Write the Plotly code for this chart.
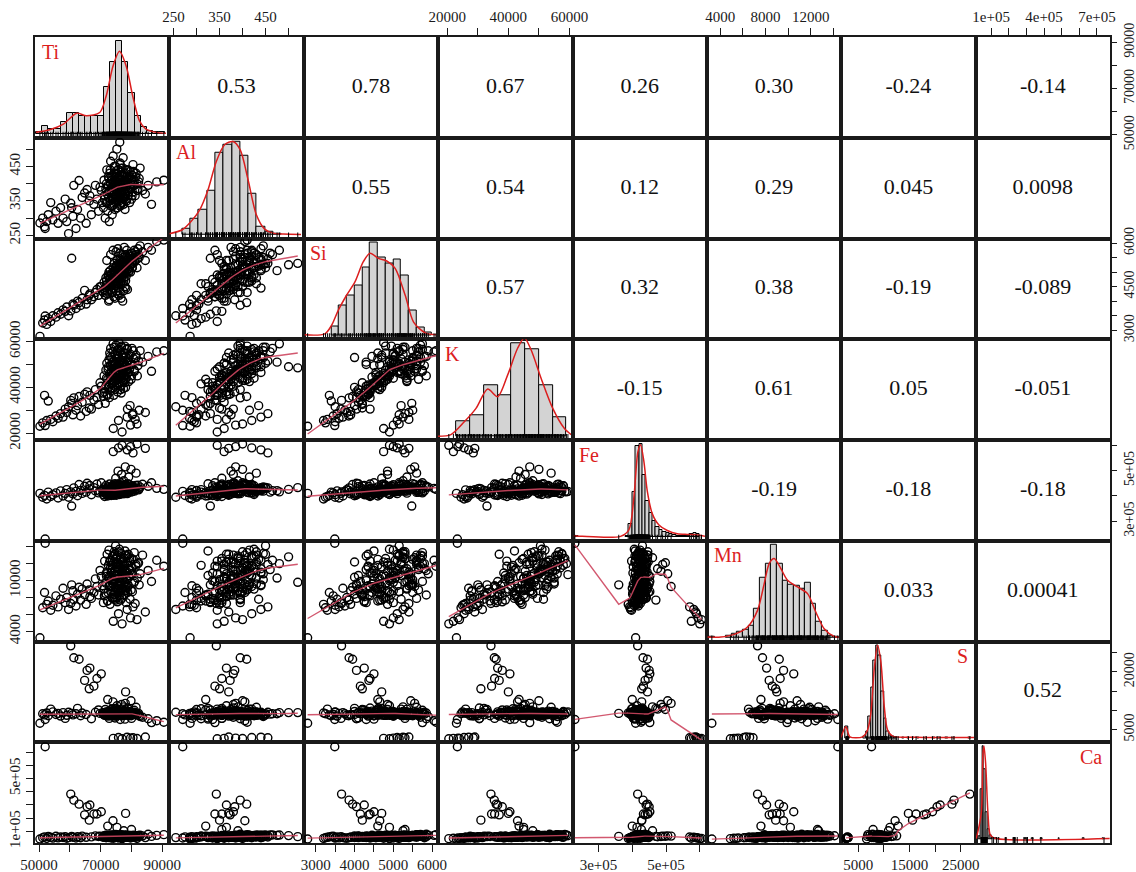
import numpy as np
import plotly.graph_objects as go
from plotly.subplots import make_subplots

# ---------------- sample values (one entry per sample, same order in every list) ----------------
ti = [52000, 50300, 51200, 51800, 52500, 53000, 53800, 54500, 55500, 56200,
      57000, 57800, 58500, 59000, 59600, 60300, 60600, 61000, 61300, 62000,
      62500, 63000, 63500, 64000, 64800, 65300, 65600, 66300, 66500, 67000,
      67800, 68300, 68800, 69300, 70200, 70600,
      69800, 70900, 71100, 71300, 71500, 71700, 71800, 72000, 72100, 72300,
      72400, 72600, 72700, 72800, 72900, 72950, 73050, 73200, 73250, 73400,
      73550, 73600, 73750, 73900, 73950, 74000, 74050, 74100, 74250, 74350,
      74400, 74500, 74650, 74700, 74800, 74850, 74900, 74980, 75050, 75100,
      75150, 75250, 75300, 75400, 75450, 75550, 75600, 75650, 75750, 75800,
      75900, 75950, 76050, 76100, 76200, 76250, 76350, 76400, 76500, 76550,
      76650, 76700, 76800, 76850, 76950, 77050, 77150, 77200, 77300, 77400,
      77500, 77550, 77650, 77750, 77850, 77900, 78000, 78100, 78200, 78300,
      78400, 78500, 78600, 78700, 78800, 78950, 79100, 79250, 79400, 79550,
      79700, 79850, 80000, 80150, 80300, 80500, 80700, 80900, 81200, 81500,
      81800, 82100, 82500, 82800, 83600, 84500, 85400, 86500, 88200, 90500,
      71200, 71900, 72200, 72500, 72800, 73100, 73300, 73500, 73700, 73800,
      74000, 74200, 74300, 74450, 74600, 74750, 74950, 75100, 75200, 75350,
      75500, 75700, 75850, 76000, 76150, 76300, 76450, 76600, 76750, 76900,
      77100, 77250, 77450, 77600, 77800, 78050, 78250, 78450, 78650, 78900,
      79150, 79350, 79600, 79900, 80200, 80600, 81000, 81400, 81900, 82300]
al = [270, 286, 300, 275, 290, 310, 345, 295, 320, 285,
      330, 300, 355, 290, 255, 343, 330, 305, 395, 270,
      325, 409, 300, 360, 373, 285, 383, 350, 365, 310,
      340, 395, 355, 320, 380, 345,
      390, 330, 410, 355, 300, 385, 345, 440, 370, 320,
      395, 360, 415, 290, 380, 430, 350, 400, 465, 335,
      375, 420, 310, 390, 355, 405, 480, 360, 340, 395,
      430, 370, 325, 410, 385, 450, 355, 395, 420, 345,
      380, 500, 365, 405, 330, 390, 440, 375, 415, 420,
      360, 395, 350, 425, 520, 460, 335, 400, 370, 410,
      355, 445, 380, 395, 345, 420, 365, 400, 475, 340,
      390, 430, 375, 360, 410, 325, 385, 370, 440, 395,
      350, 420, 440, 380, 405, 365, 415, 390, 345, 435,
      385, 400, 355, 425, 375, 455, 395, 410, 365, 430,
      400, 385, 415, 445, 380, 370, 395, 340, 405, 410,
      365, 400, 345, 420, 375, 440, 355, 390, 410, 335,
      425, 370, 395, 450, 360, 405, 385, 430, 350, 415,
      380, 440, 365, 400, 375, 455, 340, 410, 390, 425,
      360, 445, 380, 405, 370, 430, 355, 415, 395, 440,
      375, 420, 385, 410, 365, 435, 395, 420, 380, 405]
si = [3490, 2790, 3250, 3350, 3200, 3400, 3300, 3500, 3450, 3600,
      3550, 3700, 3650, 3800, 3500, 3665, 5475, 3900, 3860, 3750,
      4000, 3950, 3850, 4100, 4370, 3900, 4050, 4200, 4250, 4050,
      4150, 4300, 4400, 4200, 4500, 4350,
      4500, 4300, 4650, 4400, 4200, 4800, 4550, 5400, 4350, 4600,
      4900, 4000, 5000, 4050, 4750, 4600, 4850, 4500, 5600, 4400,
      4950, 4700, 4600, 4300, 4800, 4650, 5750, 4750, 4150, 4900,
      5300, 4650, 4100, 5000, 4550, 5150, 4700, 5700, 4800, 4350,
      4600, 5250, 4900, 5150, 4250, 5000, 5800, 4850, 4650, 5100,
      5200, 4750, 4200, 4900, 5300, 5650, 4300, 5150, 4600, 5400,
      4100, 5250, 4850, 5600, 4900, 5200, 4000, 5350, 5050, 4350,
      5250, 4800, 5850, 5100, 4950, 4500, 5550, 4700, 4450, 5000,
      5400, 5750, 5250, 4400, 5500, 5100, 5350, 5050, 5600, 5200,
      5000, 5450, 5300, 5650, 5150, 5300, 5500, 5750, 5400, 5600,
      5150, 5800, 5500, 5900, 5700, 5400, 5850, 5750, 6050, 6100,
      4400, 4700, 4250, 4850, 4500, 5050, 4600, 4900, 4300, 4750,
      5150, 4450, 4950, 5300, 4650, 5000, 4550, 5200, 4800, 5400,
      4700, 5100, 4450, 5250, 4900, 5450, 4650, 5050, 4800, 5350,
      4950, 5500, 4700, 5200, 5000, 5600, 4850, 5300, 5100, 5450,
      5000, 5550, 5250, 5650, 5150, 5500, 5350, 5700, 5450, 5600]
kk = [23300, 23000, 24500, 36500, 25500, 34000, 26000, 25000, 27500, 26500,
      28500, 27000, 30500, 29000, 31500, 34300, 33000, 28000, 35400, 30000,
      32000, 36000, 27500, 33500, 37000, 29500, 38000, 31000, 36500, 30500,
      34500, 39000, 35500, 32500, 40500, 37500,
      42000, 36000, 45000, 39500, 33000, 47500, 41000, 50500, 37000, 43500,
      48000, 40000, 52000, 35500, 46000, 55000, 44500, 49500, 57000, 38500,
      47000, 53000, 41500, 50000, 45500, 43000, 59000, 22000, 36500, 51500,
      48500, 42500, 39000, 54500, 46500, 50500, 44000, 58500, 47500, 41000,
      52500, 49000, 45000, 56000, 38000, 47500, 53500, 43500, 50000, 25500,
      46000, 59500, 42000, 51000, 48500, 55500, 40500, 47000, 44500, 52000,
      37500, 57500, 45500, 49500, 20500, 46000, 53000, 43000, 51000, 39500,
      48000, 55000, 45000, 50500, 58000, 42000, 47000, 40000, 53500, 44000,
      49000, 56500, 27000, 30500, 51500, 46500, 42500, 54000, 48000, 32000,
      23500, 50000, 45000, 57000, 28000, 28500, 52500, 47500, 26000, 54000,
      24000, 49500, 30000, 56000, 51000, 29000, 53500, 47000, 55500, 56000,
      38000, 44000, 36500, 49000, 41000, 53500, 39500, 46500, 51000, 42000,
      55500, 44500, 48000, 57500, 40500, 50000, 45500, 52500, 43000, 47500,
      54000, 49000, 41500, 56500, 46000, 51500, 39000, 48500, 58000, 44000,
      50500, 53000, 42500, 47000, 55000, 49500, 45000, 51000, 57000, 46500,
      52000, 48000, 54500, 43500, 50000, 56000, 47000, 53000, 45000, 51500]
fe = [230000, 410000, 395000, 402000, 388000, 415000, 398000, 405000, 412000, 392000,
      420000, 400000, 410000, 425000, 395000, 416000, 360000, 408000, 432000, 418000,
      401000, 445000, 422000, 410000, 438000, 415000, 450000, 428000, 441000, 405000,
      433000, 420000, 447000, 412000, 452000, 425000,
      418000, 405000, 432000, 398000, 420000, 441000, 409000, 427000, 415000, 400000,
      436000, 412000, 423000, 404000, 447000, 418000, 410000, 430000, 421000, 402000,
      438000, 414000, 425000, 408000, 442000, 428000, 416000, 575000, 411000, 433000,
      419000, 405000, 448000, 424000, 412000, 430000, 470000, 417000, 422000, 403000,
      436000, 426000, 414000, 445000, 409000, 431000, 420000, 498000, 412000, 590000,
      427000, 418000, 440000, 406000, 433000, 415000, 423000, 452000, 410000, 428000,
      437000, 419000, 485000, 414000, 600000, 430000, 408000, 443000, 421000, 413000,
      460000, 426000, 435000, 417000, 440000, 409000, 515000, 445000, 428000, 419000,
      438000, 412000, 582000, 430000, 448000, 425000, 475000, 416000, 433000, 422000,
      595000, 505000, 427000, 440000, 418000, 570000, 436000, 430000, 424000, 490000,
      605000, 442000, 428000, 435000, 446000, 588000, 438000, 452000, 430000, 426000,
      412000, 427000, 405000, 436000, 418000, 423000, 409000, 431000, 415000, 440000,
      420000, 403000, 428000, 434000, 416000, 444000, 410000, 425000, 419000, 437000,
      413000, 429000, 421000, 446000, 407000, 432000, 417000, 424000, 439000, 411000,
      427000, 435000, 418000, 442000, 414000, 430000, 422000, 437000, 409000, 433000,
      420000, 445000, 426000, 415000, 438000, 428000, 419000, 441000, 430000, 424000]
mn = [14400, 3260, 6800, 8600, 7200, 7600, 6500, 7100, 8200, 6900,
      7800, 9100, 7400, 8000, 6600, 7300, 9500, 8800, 7740, 7000,
      8400, 9220, 7700, 9000, 8330, 7200, 9600, 8900, 8100, 7900,
      8600, 10200, 9300, 8300, 10500, 9400,
      11200, 7400, 9000, 12300, 8500, 9700, 10800, 11000, 13100, 7600,
      8600, 10400, 13600, 9400, 12200, 10300, 7200, 11500, 12400, 10900,
      10100, 9300, 11800, 12900, 8000, 9600, 12000, 5200, 9900, 7800,
      13400, 8400, 10600, 11100, 9200, 14100, 7700, 12600, 10500, 11600,
      9000, 12800, 10200, 13000, 7500, 8800, 11400, 12100, 9500, 6100,
      11900, 10700, 8200, 13700, 9800, 11300, 10000, 8700, 12500, 9400,
      8900, 13200, 11100, 7900, 4900, 10600, 12200, 9100, 10300, 11700,
      12700, 9600, 8300, 11200, 11800, 13500, 9300, 9000, 10900, 7400,
      10100, 12900, 6600, 9200, 8600, 13100, 11400, 10400, 12300, 7800,
      5600, 10800, 12600, 11500, 8700, 6900, 9700, 13300, 7300, 11900,
      5400, 12000, 9500, 10800, 13000, 6300, 11200, 9900, 12400, 11700,
      8200, 10500, 7600, 11800, 9300, 12400, 8700, 10000, 11300, 7900,
      12900, 9600, 8400, 13100, 10200, 11000, 9100, 12200, 8000, 10700,
      11600, 9400, 8600, 13400, 10300, 11900, 7700, 10900, 12600, 9000,
      11400, 10100, 8300, 12000, 9800, 13000, 8800, 11100, 12300, 9500,
      10600, 12700, 11200, 8900, 10800, 12500, 9900, 11700, 10300, 12100]
ss = [7600, 6630, 9100, 8800, 9300, 8600, 10300, 9600, 8900, 9200,
      8500, 9400, 7900, 8700, 9500, 26800, 9200, 8800, 23700, 9100,
      10500, 23300, 8600, 9300, 17800, 8900, 20400, 15600, 21000, 7800,
      16300, 9500, 18300, 10100, 19500, 9300,
      9200, 8900, 9400, 8700, 10200, 8800, 9600, 9000, 8500, 12800,
      9200, 9700, 8900, 7900, 9400, 8800, 9500, 8600, 9100, 9300,
      8900, 9800, 10400, 9200, 8700, 12200, 9400, 2700, 9100, 8800,
      9600, 9000, 8000, 8600, 9500, 9100, 10500, 8900, 9200, 9700,
      8800, 9400, 11200, 9000, 10100, 8600, 9500, 10200, 9100, 2900,
      8900, 9600, 9200, 8700, 9400, 9000, 7600, 9100, 8800, 9300,
      9500, 8600, 11500, 9000, 2600, 10300, 8900, 9600, 9100, 9400,
      10900, 8700, 9300, 9000, 9500, 7700, 11800, 14800, 9200, 9700,
      8900, 9100, 3000, 10600, 8700, 9300, 10300, 9000, 9500, 8800,
      2750, 12500, 7900, 8900, 9400, 2850, 9100, 10000, 9300, 10800,
      2650, 9000, 8600, 8400, 8200, 3050, 7800, 6800, 7300, 6900,
      9300, 8800, 9600, 9100, 8600, 9400, 10100, 8900, 9200, 8700,
      9500, 9000, 9700, 8800, 9300, 8500, 9900, 9100, 9400, 8700,
      9600, 9000, 9800, 8900, 9200, 9500, 8800, 9300, 9700, 8600,
      9400, 9000, 9900, 8700, 9200, 9500, 8900, 9600, 9100, 8800,
      9400, 9000, 9700, 8600, 9300, 8900, 9500, 9100, 8800, 9200]
ca = [740000, 42000, 52000, 58000, 47000, 61000, 55000, 49000, 63000, 51000,
      57000, 54000, 60000, 48000, 53000, 382000, 62000, 56000, 336000, 50000,
      59000, 306000, 52000, 64000, 225000, 55000, 286000, 185000, 299000, 58000,
      231000, 66000, 231000, 61000, 248000, 57000,
      64000, 58000, 67000, 55000, 60000, 71000, 52000, 63000, 57000, 140000,
      66000, 54000, 70000, 59000, 62000, 68000, 56000, 61000, 73000, 50000,
      64000, 58000, 66000, 55000, 69000, 180000, 72000, 48000, 60000, 63000,
      57000, 65000, 53000, 70000, 59000, 67000, 62000, 76000, 58000, 64000,
      55000, 68000, 130000, 61000, 57000, 66000, 52000, 63000, 71000, 52000,
      59000, 67000, 56000, 64000, 60000, 73000, 54000, 62000, 58000, 69000,
      65000, 57000, 61000, 74000, 45000, 60000, 66000, 55000, 70000, 58000,
      105000, 63000, 59000, 67000, 56000, 62000, 64000, 236000, 71000, 57000,
      60000, 68000, 55000, 58000, 65000, 62000, 59000, 70000, 56000, 63000,
      50000, 66000, 114000, 61000, 58000, 57000, 67000, 62000, 55000, 64000,
      47000, 68000, 60000, 71000, 66000, 53000, 78000, 62000, 70000, 75000,
      58000, 64000, 55000, 67000, 60000, 70000, 57000, 63000, 59000, 66000,
      61000, 54000, 68000, 72000, 58000, 65000, 60000, 63000, 56000, 69000,
      62000, 67000, 57000, 71000, 59000, 66000, 61000, 64000, 58000, 70000,
      62000, 68000, 55000, 65000, 60000, 73000, 57000, 63000, 67000, 61000,
      66000, 59000, 69000, 62000, 64000, 71000, 60000, 67000, 63000, 69000]

var_names = ["Ti", "Al", "Si", "K", "Fe", "Mn", "S", "Ca"]

# correlation labels (upper panels), row by row
corr_ti = ["0.53", "0.78", "0.67", "0.26", "0.30", "-0.24", "-0.14"]
corr_al = ["0.55", "0.54", "0.12", "0.29", "0.045", "0.0098"]
corr_si = ["0.57", "0.32", "0.38", "-0.19", "-0.089"]
corr_k = ["-0.15", "0.61", "0.05", "-0.051"]
corr_fe = ["-0.19", "-0.18", "-0.18"]
corr_mn = ["0.033", "0.00041"]
corr_s = ["0.52"]

# histogram bars (left edge, width, relative height)
ti_bin_left = [49000, 51000, 53000, 55000, 57000, 59000, 61000, 63000, 65000, 67000, 69000,
               71000, 73000, 75000, 77000, 79000, 81000, 83000, 85000, 87000, 89000]
ti_bin_h = [7, 25, 15, 15, 35, 65, 65, 55, 55, 55, 55, 143, 218, 282, 218, 123, 55, 20, 10, 7, 5]
al_bin_left = [269, 287, 305, 323, 341, 359, 377, 395, 413, 431, 449, 467]
al_bin_h = [17, 47, 75, 132, 247, 270, 280, 237, 123, 23, 8, 3]
si_bin_left = [3400, 3600, 3800, 4000, 4200, 4400, 4600, 4800, 5000, 5200, 5400, 5600, 5800]
si_bin_h = [27, 90, 120, 150, 202, 278, 232, 215, 226, 180, 75, 25, 10]
k_bin_left = [23000, 27500, 32000, 36500, 41000, 45500, 50000, 54500]
k_bin_h = [46, 63, 151, 121, 278, 260, 153, 58]
fe_bin_left = [230000, 380000, 390000, 400000, 410000, 420000, 430000, 440000, 450000, 460000,
               470000, 480000, 490000, 500000, 510000, 520000, 530000, 540000, 550000, 560000,
               570000, 580000, 590000]
fe_bin_h = [3, 4, 40, 140, 280, 287, 190, 110, 75, 50, 32, 22, 16, 12, 10, 6, 4, 3, 4, 2, 10, 12, 8]
mn_bin_left = [3000, 4500, 5000, 5500, 6000, 6500, 7000, 7500, 8000, 8500, 9000, 9500, 10000,
               10500, 11000, 11500, 12000, 12500, 13000, 13500, 14000]
mn_bin_h = [3, 5, 12, 17, 24, 37, 87, 180, 222, 279, 222, 172, 160, 155, 148, 165, 102, 47, 22, 7, 3]
s_bin_left = [2500, 3000, 6000, 6500, 7000, 7500, 8000, 8500, 9000, 9500, 10000, 10500, 11000,
              11500, 12000, 13500, 14500, 15500, 16500, 18000, 19500, 20500, 22000, 23500, 26500]
s_bin_h = [35, 4, 5, 20, 65, 150, 230, 275, 245, 140, 60, 20, 10, 5, 4, 3, 3, 3, 3, 3, 3, 3, 3, 3, 3]
ca_bin_left = [30000, 40000, 50000, 60000, 70000, 80000, 90000, 100000, 120000, 140000, 180000,
               230000, 290000, 330000, 380000, 480000, 620000, 730000]
ca_bin_h = [10, 150, 280, 210, 80, 30, 12, 6, 4, 3, 3, 3, 3, 3, 3, 3, 3, 3]
bin_widths = [2000, 18, 200, 4500, 10000, 500, 500, 10000]

# density curves (same height units as the bars)
ti_dens_x = [49000, 53500, 57900, 62200, 65400, 69700, 71800, 74000, 76100, 78300, 80400, 82600, 84700, 88000, 91200]
ti_dens_y = [5, 13, 30, 63, 55, 65, 115, 205, 250, 205, 115, 40, 15, 5, 2]
al_dens_x = [241, 269, 288, 307, 325, 343, 361, 379, 395, 412, 430, 448, 466, 488, 527]
al_dens_y = [3, 15, 40, 75, 135, 220, 270, 280, 255, 165, 60, 17, 5, 2, 1]
si_dens_x = [2715, 3233, 3406, 3579, 3794, 4010, 4226, 4399, 4615, 4831, 5047, 5306, 5522, 5824, 6126]
si_dens_y = [2, 5, 30, 75, 120, 160, 220, 245, 230, 222, 200, 120, 40, 8, 2]
k_dens_x = [16830, 21200, 25570, 29400, 33220, 36500, 39780, 43060, 45250, 47430, 50710, 54540, 58360, 60550]
k_dens_y = [0, 5, 43, 83, 141, 118, 183, 263, 293, 258, 173, 83, 23, 5]
fe_dens_x = [226800, 251500, 365300, 390000, 404800, 416700, 424600, 434500, 444400, 459200, 479000,
             503800, 533400, 563100, 587800, 617500]
fe_dens_y = [4, 2, 2, 22, 122, 262, 284, 232, 142, 72, 37, 20, 10, 8, 7, 2]
mn_dens_x = [2880, 4060, 5240, 6410, 7300, 7890, 8330, 8770, 9360, 9950, 10840, 11720, 12450, 13190, 14070, 14660]
mn_dens_y = [2, 2, 10, 32, 82, 162, 222, 237, 207, 172, 152, 132, 77, 27, 4, 1]
s_dens_x = [1615, 2590, 3370, 5850, 6820, 7470, 8125, 8775, 9425, 10080, 10730, 11700, 16260, 27850]
s_dens_y = [3, 35, 5, 5, 25, 75, 205, 275, 225, 95, 25, 7, 4, 3]
ca_dens_x = [15800, 44100, 53600, 59300, 68700, 82000, 95200, 119800, 772000]
ca_dens_y = [2, 78, 258, 280, 228, 78, 13, 3, 2]

# axis ranges and ticks
axis_ranges = [[48700, 92300], [241, 533], [2690, 6155], [17000, 61000],
               [223000, 621000], [2820, 14700], [1680, 27930], [12000, 774000]]
ti_ticks = [50000, 60000, 70000, 80000, 90000]
al_ticks = [250, 300, 350, 400, 450, 500]
si_ticks = [3000, 3500, 4000, 4500, 5000, 5500, 6000]
k_ticks = [20000, 30000, 40000, 50000, 60000]
fe_ticks = [300000, 400000, 500000, 600000]
mn_ticks = [4000, 6000, 8000, 10000, 12000, 14000]
s_ticks = [5000, 10000, 15000, 20000, 25000]
ca_ticks = [100000, 200000, 300000, 400000, 500000, 600000, 700000]
ti_labels = ["50000", "", "70000", "", "90000"]
al_labels = ["250", "", "350", "", "450", ""]
si_labels_bottom = ["3000", "", "4000", "", "5000", "", "6000"]
si_labels_right = ["3000", "", "", "4500", "", "", "6000"]
k_labels = ["20000", "", "40000", "", "60000"]
fe_labels = ["3e+05", "", "5e+05", ""]
mn_labels_top = ["4000", "", "8000", "", "12000", ""]
mn_labels_left = ["4000", "", "", "10000", "", ""]
s_labels_bottom = ["5000", "", "15000", "", "25000"]
s_labels_right = ["5000", "", "", "20000", ""]
ca_labels_top = ["1e+05", "", "", "4e+05", "", "", "7e+05"]
ca_labels_left = ["1e+05", "", "", "", "5e+05", "", ""]

# ---------------- assemble ----------------
cols = [ti, al, si, kk, fe, mn, ss, ca]
corr_rows = [corr_ti, corr_al, corr_si, corr_k, corr_fe, corr_mn, corr_s]
bins_left = [ti_bin_left, al_bin_left, si_bin_left, k_bin_left, fe_bin_left, mn_bin_left, s_bin_left, ca_bin_left]
bins_h = [ti_bin_h, al_bin_h, si_bin_h, k_bin_h, fe_bin_h, mn_bin_h, s_bin_h, ca_bin_h]
dens_x = [ti_dens_x, al_dens_x, si_dens_x, k_dens_x, fe_dens_x, mn_dens_x, s_dens_x, ca_dens_x]
dens_y = [ti_dens_y, al_dens_y, si_dens_y, k_dens_y, fe_dens_y, mn_dens_y, s_dens_y, ca_dens_y]

bottom_ax = {0: (ti_ticks, ti_labels), 2: (si_ticks, si_labels_bottom),
             4: (fe_ticks, fe_labels), 6: (s_ticks, s_labels_bottom)}
top_ax = {1: (al_ticks, al_labels), 3: (k_ticks, k_labels),
          5: (mn_ticks, mn_labels_top), 7: (ca_ticks, ca_labels_top)}
left_ax = {1: (al_ticks, al_labels), 3: (k_ticks, k_labels),
           5: (mn_ticks, mn_labels_left), 7: (ca_ticks, ca_labels_left)}
right_ax = {0: (ti_ticks, ti_labels), 2: (si_ticks, si_labels_right),
            4: (fe_ticks, fe_labels), 6: (s_ticks, s_labels_right)}


def lowess(x, y, f=2.0 / 3.0, it=3):
    x = np.asarray(x, float)
    y = np.asarray(y, float)
    o = np.argsort(x, kind="mergesort")
    x, y = x[o], y[o]
    n = len(x)
    ns = max(min(int(round(f * n)), n), 2)
    d = np.abs(x[:, None] - x[None, :])
    h = np.sort(d, axis=1)[:, ns - 1]
    h = np.maximum(h, 1e-9)
    u = np.clip(d / h[:, None], 0, 1)
    w = (1 - u ** 3) ** 3
    rob = np.ones(n)
    fit = np.zeros(n)
    for _ in range(it + 1):
        for i in range(n):
            wi = w[i] * rob
            sw = wi.sum()
            if sw <= 0:
                fit[i] = y[i]
                continue
            xm = (wi * x).sum() / sw
            ym = (wi * y).sum() / sw
            vx = (wi * (x - xm) ** 2).sum()
            b = (wi * (x - xm) * (y - ym)).sum() / vx if vx > 1e-12 else 0.0
            fit[i] = ym + b * (x[i] - xm)
        res = y - fit
        sm = np.median(np.abs(res))
        if sm == 0:
            break
        uu = np.clip(res / (6 * sm), -1, 1)
        rob = (1 - uu ** 2) ** 2
    return x, fit


FONT = "Liberation Serif"
LINE = "#1a1a1a"
fig = make_subplots(rows=8, cols=8, horizontal_spacing=0, vertical_spacing=0)
annotations = []


def aname(idx):
    return "" if idx == 1 else str(idx)


for r in range(8):
    for c in range(8):
        idx = r * 8 + c + 1
        xr = axis_ranges[c]
        if r > c:
            fig.add_trace(go.Scatter(x=cols[c], y=cols[r], mode="markers",
                                     marker=dict(symbol="circle-open", size=8, color="black",
                                                 line=dict(width=1.4, color="black")),
                                     hoverinfo="skip"), row=r + 1, col=c + 1)
            lx, ly = lowess(cols[c], cols[r])
            fig.add_trace(go.Scatter(x=lx, y=ly, mode="lines",
                                     line=dict(color="rgba(205,70,95,0.9)", width=1.4),
                                     hoverinfo="skip"), row=r + 1, col=c + 1)
            yr = axis_ranges[r]
        elif r == c:
            M = max(bins_h[r])
            yr = [-0.04 * M, 1.04 * M]
            fig.add_trace(go.Bar(x=bins_left[r], y=bins_h[r], width=[bin_widths[r]] * len(bins_left[r]),
                                 offset=0, marker=dict(color="#d3d3d3", line=dict(color="black", width=1)),
                                 hoverinfo="skip"), row=r + 1, col=c + 1)
            fig.add_trace(go.Scatter(x=dens_x[r], y=dens_y[r], mode="lines",
                                     line=dict(color="#dc1e1e", width=1.5, shape="spline", smoothing=0.8),
                                     hoverinfo="skip"), row=r + 1, col=c + 1)
            rug_y = -0.04 * M + 2.5 / 100.75 * 1.08 * M
            fig.add_trace(go.Scatter(x=cols[r], y=[rug_y] * len(cols[r]), mode="markers",
                                     marker=dict(symbol="line-ns", size=5, color="black",
                                                 line=dict(width=1, color="black")),
                                     hoverinfo="skip"), row=r + 1, col=c + 1)
            right = r >= 6
            annotations.append(dict(text=var_names[r], xref=f"x{aname(idx)} domain",
                                    yref=f"y{aname(idx)} domain",
                                    x=0.955 if right else 0.035, y=0.985,
                                    xanchor="right" if right else "left", yanchor="top",
                                    showarrow=False, font=dict(family=FONT, size=20, color="#dc1e1e")))
        else:
            yr = axis_ranges[r]
            fig.add_trace(go.Scatter(x=[(xr[0] + xr[1]) / 2], y=[(yr[0] + yr[1]) / 2], mode="text",
                                     text=[corr_rows[r][c - r - 1]], textposition="middle center",
                                     textfont=dict(family=FONT, size=22, color="#111111"),
                                     hoverinfo="skip"), row=r + 1, col=c + 1)

        xa = dict(range=xr, showgrid=False, zeroline=False, showline=True, mirror=True,
                  linecolor=LINE, linewidth=1.6, ticks="", showticklabels=False, fixedrange=True,
                  automargin=False)
        ya = dict(range=yr, showgrid=False, zeroline=False, showline=True, mirror=True,
                  linecolor=LINE, linewidth=1.6, ticks="", showticklabels=False, fixedrange=True,
                  automargin=False)
        tick_style = dict(ticks="outside", ticklen=7, tickwidth=1, tickcolor=LINE,
                          showticklabels=True, tickfont=dict(family=FONT, size=15, color=LINE),
                          tickmode="array")
        if r == 0 and c in top_ax:
            tv, tt = top_ax[c]
            xa.update(tick_style, side="top", tickvals=tv, ticktext=tt, tickangle=0)
        if r == 7 and c in bottom_ax:
            tv, tt = bottom_ax[c]
            xa.update(tick_style, side="bottom", tickvals=tv, ticktext=tt, tickangle=0)
        if c == 0 and r in left_ax:
            tv, tt = left_ax[r]
            ya.update(tick_style, side="left", tickvals=tv, ticktext=tt, tickangle=-90)
        if c == 7 and r in right_ax:
            tv, tt = right_ax[r]
            ya.update(tick_style, side="right", tickvals=tv, ticktext=tt, tickangle=-90)
            ya.update(ticklen=5, tickfont=dict(family=FONT, size=14, color=LINE))
        fig.update_xaxes(xa, row=r + 1, col=c + 1)
        fig.update_yaxes(ya, row=r + 1, col=c + 1)

fig.update_layout(width=1136, height=872, margin=dict(l=35, r=26, t=37, b=29, autoexpand=False),
                  paper_bgcolor="white", plot_bgcolor="white", showlegend=False,
                  annotations=annotations, font=dict(family=FONT), bargap=0)
fig.write_html("out.html")
